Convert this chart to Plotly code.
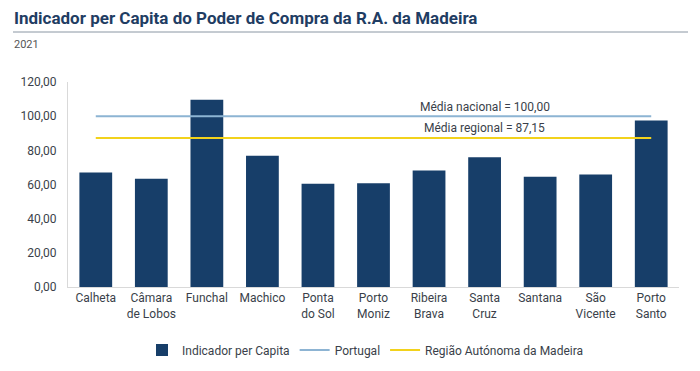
import plotly.graph_objects as go

categories = ["Calheta", "Câmara de Lobos", "Funchal", "Machico", "Ponta do Sol", "Porto Moniz",
              "Ribeira Brava", "Santa Cruz", "Santana", "São Vicente", "Porto Santo"]
tick_labels = ["Calheta", "Câmara<br>de Lobos", "Funchal", "Machico", "Ponta<br>do Sol", "Porto<br>Moniz",
               "Ribeira<br>Brava", "Santa<br>Cruz", "Santana", "São<br>Vicente", "Porto<br>Santo"]
indicador = [67.0, 63.3, 109.6, 76.9, 60.4, 60.7, 68.2, 75.9, 64.5, 65.9, 97.5]
portugal = [100.00] * len(categories)
madeira = [87.15] * len(categories)
y_ticks = [0, 20, 40, 60, 80, 100, 120]
y_tick_labels = ["0,00", "20,00", "40,00", "60,00", "80,00", "100,00", "120,00"]

NAVY = "#173e69"
LBLUE = "#8db4d3"
YELLOW = "#f2d21c"
TXT = "#3a3f4a"

fig = go.Figure()
fig.add_trace(go.Bar(x=categories, y=indicador, name="Indicador per Capita",
                     marker=dict(color=NAVY, line=dict(width=0))))
fig.add_trace(go.Scatter(x=categories, y=portugal, name="Portugal", mode="lines",
                         line=dict(color=LBLUE, width=2)))
fig.add_trace(go.Scatter(x=categories, y=madeira, name="Região Autónoma da Madeira", mode="lines",
                         line=dict(color=YELLOW, width=2)))

fig.add_annotation(x="Santa Cruz", y=100, yshift=9, text="Média nacional = 100,00", showarrow=False,
                   font=dict(size=12, color=TXT), yanchor="middle")
fig.add_annotation(x="Santa Cruz", y=87.15, yshift=10, text="Média regional = 87,15", showarrow=False,
                   font=dict(size=12, color=TXT), yanchor="middle")

PL, PR, PT, PB = 68, 679, 82, 287
PW, PH = PR - PL, PB - PT

def px(x):
    return (x - PL) / PW

def py(y):
    return (PB - y) / PH

# title & subtitle
fig.add_annotation(xref="paper", yref="paper", x=px(12), y=py(18),
                   text="<b>Indicador per Capita do Poder de Compra da R.A. da Madeira</b>",
                   showarrow=False, xanchor="left", yanchor="middle",
                   font=dict(family="Roboto", size=17, color="#1f3d63"))
fig.add_annotation(xref="paper", yref="paper", x=px(12), y=py(44),
                   text="2021", showarrow=False, xanchor="left", yanchor="middle",
                   font=dict(family="Roboto", size=11, color="#555555"))
fig.add_shape(type="line", xref="paper", yref="paper", x0=px(13), x1=px(688),
              y0=py(32), y1=py(32), line=dict(color="#8a96a3", width=1))

fig.update_layout(
    width=700, height=371,
    margin=dict(l=PL, r=700 - PR, t=PT, b=371 - PB, autoexpand=False),
    plot_bgcolor="white", paper_bgcolor="white",
    font=dict(family="Roboto", size=12, color=TXT),
    bargap=0.41,
    showlegend=True,
    legend=dict(orientation="h", x=px(142), xanchor="left", y=py(350), yanchor="middle",
                font=dict(size=12, color=TXT), itemwidth=30, traceorder="normal"),
    xaxis=dict(tickmode="array", tickvals=categories, ticktext=tick_labels, automargin=False,
               showline=True, linecolor="#d9d9d9", linewidth=1, ticks="",
               showgrid=False, tickfont=dict(size=12, color=TXT)),
    yaxis=dict(range=[0, 120], tickmode="array", tickvals=y_ticks, ticktext=y_tick_labels,
               automargin=False,
               showline=True, linecolor="#d9d9d9", linewidth=1, showgrid=False, zeroline=False,
               ticks="", ticklabelstandoff=8, tickfont=dict(size=12, color=TXT)),
)

fig.write_html("out.html", config={"displayModeBar": False},
               post_script="document.body.style.margin='0';")
